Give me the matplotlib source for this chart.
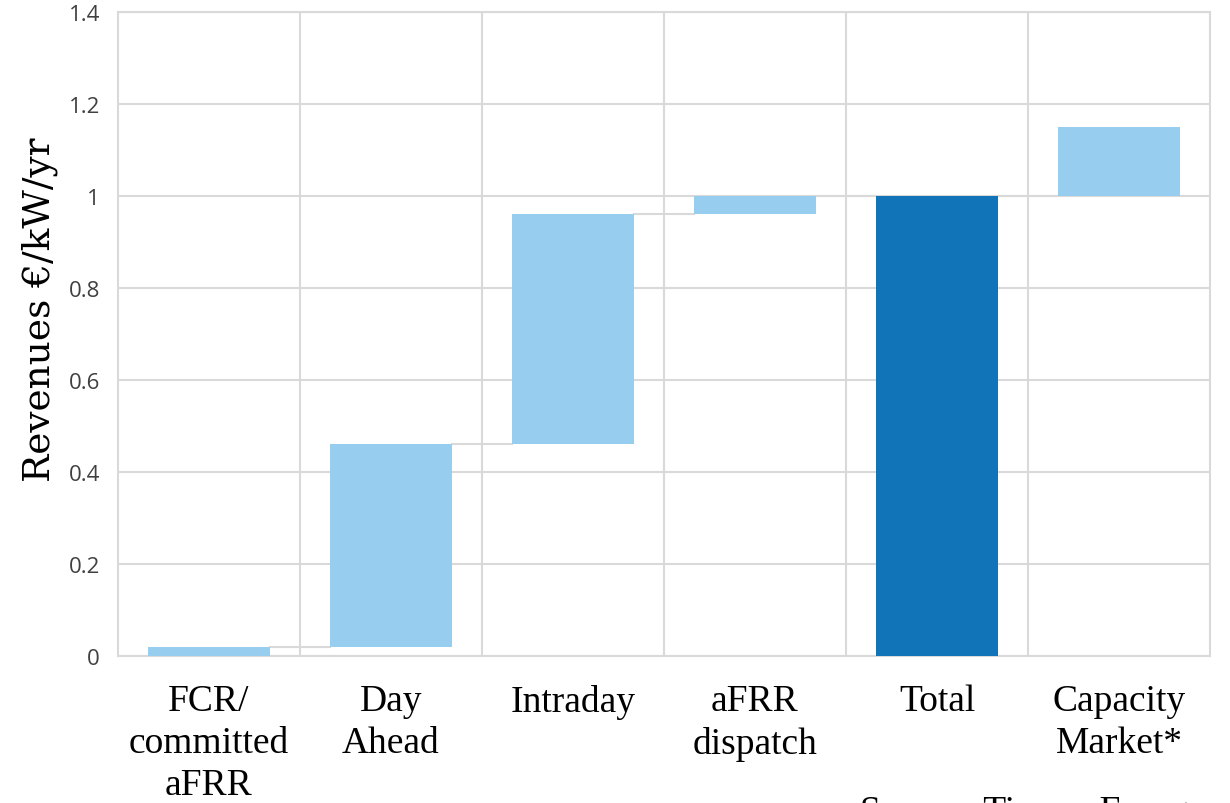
import numpy as np
import matplotlib.pyplot as plt

# categories and values (€/kW/yr)
categories = ["FCR/\ncommitted\naFRR", "Day\nAhead", "Intraday", "aFRR\ndispatch", "Total", "Capacity\nMarket*"]
increments = [0.02, 0.44, 0.50, 0.04]
total = 1.00
capacity = 0.15
yticks = [0, 0.2, 0.4, 0.6, 0.8, 1.0, 1.2, 1.4]
ytick_labels = ["0", "0.2", "0.4", "0.6", "0.8", "1", "1.2", "1.4"]

light = "#97CDEF"
dark = "#1274B8"
grid_c = "#D9D9D9"

# build waterfall bottoms / heights
bottoms = list(np.concatenate([[0], np.cumsum(increments)[:-1]])) + [0, total]
heights = increments + [total, capacity]
colors = [light] * 4 + [dark, light]

fig = plt.figure(figsize=(12.3, 8.04), dpi=100)
ax = fig.add_axes([118 / 1230, 1 - 657 / 804, (1210 - 118) / 1230, (657 - 13) / 804])

x = np.arange(len(categories))
w = 0.67
ax.bar(x, heights, bottom=bottoms, width=w, color=colors, zorder=3)

# connector lines between consecutive bars
tops = [b + h for b, h in zip(bottoms, heights)]
for i in range(len(categories) - 1):
    ax.plot([x[i] + w / 2, x[i + 1] - w / 2], [tops[i], tops[i]],
            color=grid_c, lw=1.5, zorder=2)

ax.set_xlim(-0.5, len(categories) - 0.5)
ax.set_ylim(0, 1.4)
ax.set_yticks(yticks)
ax.set_yticklabels(ytick_labels, fontfamily="Open Sans", fontsize=16, color="#404040")
ax.set_xticks(x)
ax.set_xticklabels(categories, fontfamily="Liberation Serif", fontsize=27,
                   color="black", linespacing=1.27, va="top")
ax.set_xticks(np.arange(len(categories) - 1) + 0.5, minor=True)
ax.tick_params(axis="y", length=0, pad=13)
ax.tick_params(axis="x", which="both", length=0, pad=20)

ax.grid(axis="y", color=grid_c, lw=1.5, zorder=0)
ax.grid(axis="x", which="minor", color=grid_c, lw=1.5, zorder=0)
for s in ax.spines.values():
    s.set_color(grid_c)
    s.set_linewidth(1.5)

ax.set_ylabel("Revenues €/kW/yr", fontfamily="DejaVu Serif", fontsize=27)
ax.yaxis.set_label_coords(-0.055, 0.539)

# source note, cut off at the bottom edge as in the reference
fig.text(860 / 1230, 1 - 796 / 804, "Source: Timera Energy", fontfamily="Liberation Serif",
         fontsize=27, va="top", ha="left")

fig.savefig("out.png", dpi=100)
